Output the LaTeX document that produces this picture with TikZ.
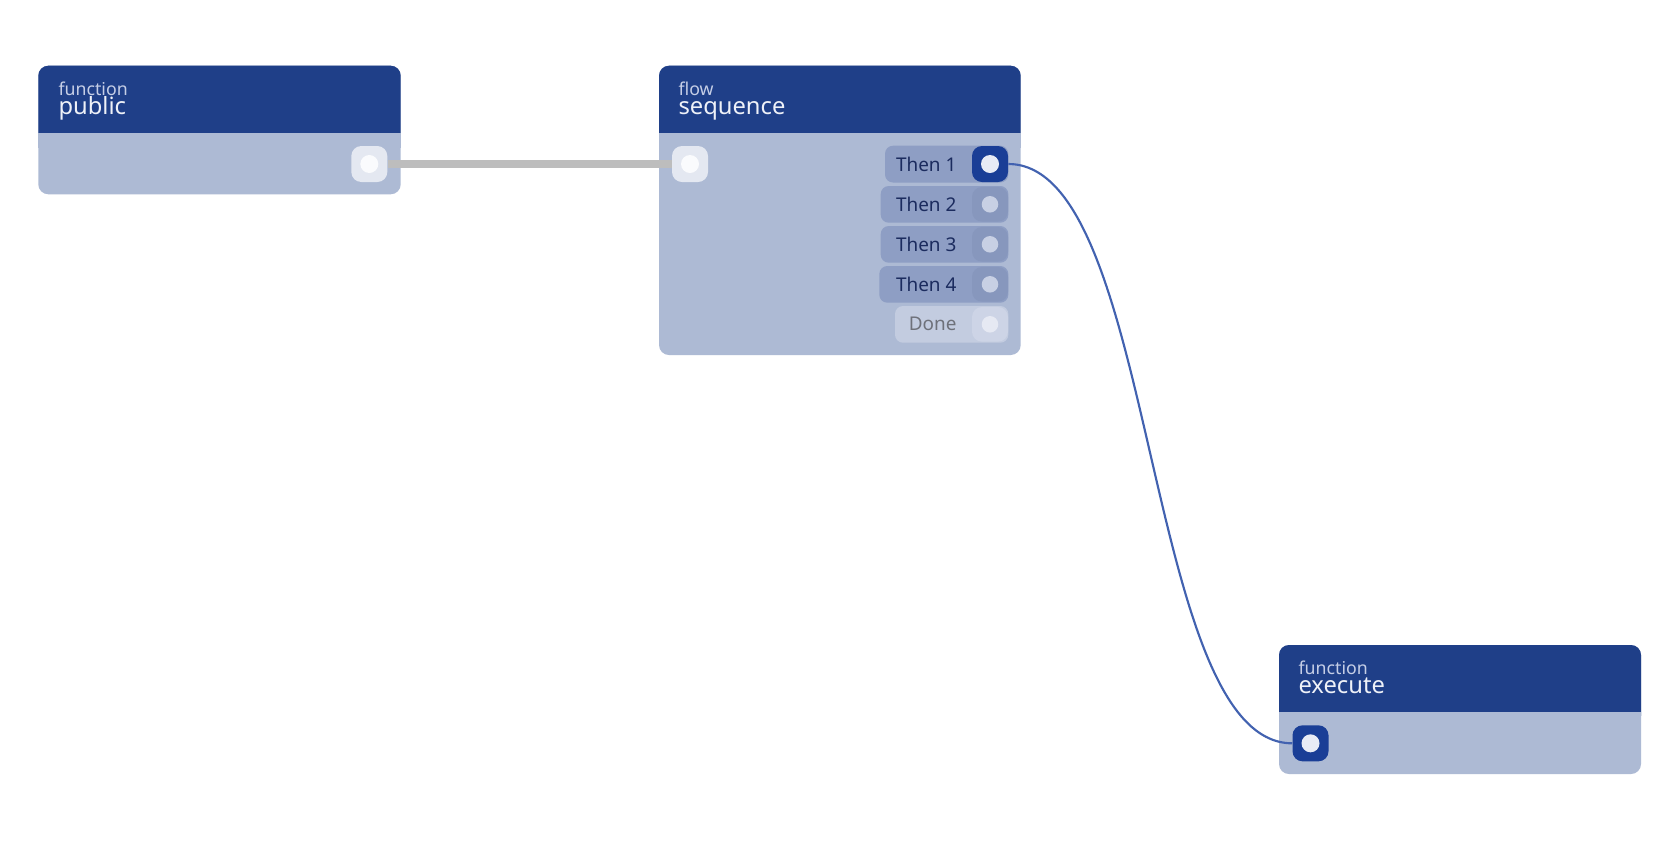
\documentclass[tikz,border=0pt]{standalone}
\usepackage{fontspec}
\setmainfont{Noto Sans}
\definecolor{headcol}{RGB}{31,63,136}
\definecolor{bodycol}{RGB}{173,186,212}
\definecolor{pillcol}{RGB}{142,158,196}
\definecolor{pillport}{RGB}{135,151,189}
\definecolor{pilldot}{RGB}{200,208,228}
\definecolor{donecol}{RGB}{195,204,224}
\definecolor{doneport}{RGB}{205,212,230}
\definecolor{donedot}{RGB}{230,233,243}
\definecolor{activeport}{RGB}{26,62,150}
\definecolor{activedot}{RGB}{232,235,245}
\definecolor{lightport}{RGB}{228,232,241}
\definecolor{lightdot}{RGB}{250,251,253}
\definecolor{thencol}{RGB}{27,43,94}
\definecolor{donetext}{RGB}{110,113,122}
\definecolor{kindcol}{RGB}{197,206,230}
\definecolor{titlecol}{RGB}{238,241,248}
\definecolor{graywire}{RGB}{189,189,189}
\definecolor{bluewire}{RGB}{66,98,176}
\newcommand\mycard[5]{%
  \fill[bodycol, rounded corners=7.5pt] (#1,#2) rectangle (#3,#4);
  \fill[headcol, rounded corners=7.5pt] (#1,#2) rectangle (#3,#5+14);
  \fill[bodycol] (#1,#5) rectangle (#3,#5+15);
}
\begin{document}
\begin{tikzpicture}[x=0.75pt,y=-0.75pt,
  kind/.style={anchor=base west, inner sep=0pt, text=kindcol, font=\fontsize{13.3}{15}\selectfont},
  title/.style={anchor=base west, inner sep=0pt, text=titlecol, font=\fontsize{17.8}{20}\selectfont},
  portbox/.style={rectangle, rounded corners=7.5pt, minimum width=27pt, minimum height=27pt, inner sep=0pt},
  thenlabel/.style={anchor=east, inner sep=0pt, text=thencol, font=\fontsize{14.2}{16}\selectfont},
  donelabel/.style={anchor=east, inner sep=0pt, text=donetext, font=\fontsize{14.2}{16}\selectfont},
  pill/.style={rounded corners=6pt}]
\useasboundingbox (0,0) rectangle (1680,840);
\fill[white] (0,0) rectangle (1680,840);

% cards
\mycard{38.3}{65.7}{400.7}{194.3}{133.3}
\mycard{659}{65.7}{1020.7}{355}{133.3}
\mycard{1279}{645}{1641}{774}{711.7}

% header texts
\node[kind]  (k1) at (58.3,95.2) {function};
\node[title] (t1) at (58.3,114) {public};
\node[kind]  (k2) at (678.3,95.2) {flow};
\node[title] (t2) at (678.3,114) {sequence};
\node[kind]  (k3) at (1298.3,674.5) {function};
\node[title] (t3) at (1298.3,693.3) {execute};

% pills
\fill[pillcol, pill] (885,145.7) rectangle (1008.3,182.5);
\fill[pillcol, pill] (880.7,186) rectangle (1008.3,222.7);
\fill[pillcol, pill] (880.7,226) rectangle (1008.3,262.7);
\fill[pillcol, pill] (879.3,266) rectangle (1008.3,302.7);
\fill[donecol, pill] (895,306) rectangle (1008.3,342.7);

\node[thenlabel] (l1) at (956.7,164) {Then 1};
\node[thenlabel] (l2) at (956.7,204.3) {Then 2};
\node[thenlabel] (l3) at (956.7,244.3) {Then 3};
\node[thenlabel] (l4) at (956.7,284.3) {Then 4};
\node[donelabel] (l5) at (956.7,324.3) {Done};

% ports
\node[portbox, fill=lightport] (pubout) at (369.3,164) {};
\node[portbox, fill=lightport] (seqin) at (690,164) {};
\node[portbox, fill=activeport] (then1) at (990,164) {};
\node[portbox, fill=pillport, minimum height=26pt] (then2) at (990,204.3) {};
\node[portbox, fill=pillport, minimum height=26pt] (then3) at (990,244.3) {};
\node[portbox, fill=pillport, minimum height=26pt] (then4) at (990,284.3) {};
\node[portbox, fill=doneport, minimum height=26pt] (done) at (990,324.3) {};
\node[portbox, fill=activeport] (exein) at (1310.5,743.3) {};

% connectors
\begin{scope}[on background layer/.style={}]
\draw[graywire, line width=5.6pt] (pubout.east) -- (seqin.west);
\end{scope}
\draw[bluewire, line width=1.6pt] (then1.east) .. controls +(150,0) and +(-150,0) .. (exein.west);

% port dots
\fill[lightdot] (pubout.center) circle (6.75pt);
\fill[lightdot] (seqin.center) circle (6.75pt);
\fill[activedot] (then1.center) circle (6.75pt);
\fill[pilldot] (then2.center) circle (6.2pt);
\fill[pilldot] (then3.center) circle (6.2pt);
\fill[pilldot] (then4.center) circle (6.2pt);
\fill[donedot] (done.center) circle (6.2pt);
\fill[activedot] (exein.center) circle (6.75pt);
\end{tikzpicture}
\end{document}
